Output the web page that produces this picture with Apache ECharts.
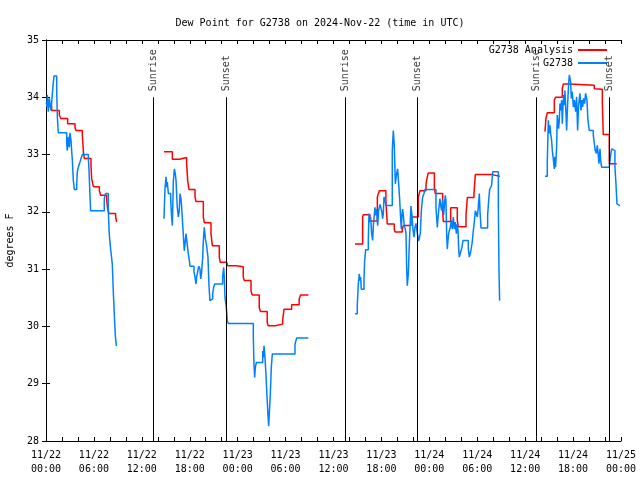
<!DOCTYPE html>
<html><head><meta charset="utf-8">
<script src="https://cdn.jsdelivr.net/npm/echarts@6/dist/echarts.min.js"></script>
<style>html,body{margin:0;padding:0;background:#fff}#c{width:640px;height:480px}</style>
</head><body><div id="c"></div>
<script>
// hours since 2024-11-22 00:00 UTC, dew point in degrees F
const xTickLabels = ['11/22\n00:00','11/22\n06:00','11/22\n12:00','11/22\n18:00','11/23\n00:00','11/23\n06:00','11/23\n12:00','11/23\n18:00','11/24\n00:00','11/24\n06:00','11/24\n12:00','11/24\n18:00','11/25\n00:00'];
const sunHours = [13.43, 22.54, 37.53, 46.49, 61.40, 70.54];
const sunLabels = ['Sunrise','Sunset','Sunrise','Sunset','Sunrise','Sunset'];

const anaDay1 = [[0.0,33.9],[0.25,33.85],[0.71,33.77],[1.67,33.69],[1.85,33.63],[2.71,33.54],[3.63,33.48],[3.75,33.42],[4.55,33.34],[4.7,33.02],[4.8,32.93],[5.63,32.81],[5.72,32.58],[5.93,32.44],[6.68,32.37],[6.84,32.29],[7.6,32.2],[7.72,32.05],[7.89,31.97],[8.72,31.91],[8.85,31.82]];
const anaDay2 = [[14.77,33.05],[15.82,32.92],[16.7,32.95],[17.61,32.84],[17.74,32.55],[17.9,32.39],[18.66,32.26],[18.78,32.18],[19.7,31.91],[19.82,31.81],[20.66,31.62],[20.83,31.41],[21.7,31.21],[21.82,31.12],[22.62,31.09],[22.75,31.06],[23.8,31.04],[24.7,30.86],[24.83,30.8],[25.67,30.62],[25.83,30.55],[26.7,30.33],[26.86,30.26],[27.7,30.07],[27.82,30.01],[28.68,30.04],[29.63,30.1],[29.8,30.3],[30.76,30.38],[31.7,30.48],[31.87,30.55],[32.85,30.55]];
const anaDay3 = [[38.69,31.44],[39.65,31.91],[39.73,31.95],[40.57,31.84],[41.49,32.26],[41.74,32.37],[42.56,32.2],[42.73,31.79],[43.61,31.7],[43.69,31.65],[44.61,31.7],[44.74,31.76],[45.7,31.91],[46.62,32.26],[46.83,32.37],[47.58,32.49],[47.75,32.61],[47.87,32.68],[48.63,32.4],[48.75,32.32],[49.67,32.02],[49.75,31.83],[50.67,32.07],[51.5,31.85],[51.63,31.74],[52.59,31.94],[52.76,32.25],[53.59,32.32],[53.76,32.65],[55.8,32.62],[56.84,32.62]];
const anaDay4 = [[62.48,33.4],[62.6,33.63],[62.77,33.73],[63.65,33.95],[63.81,34.0],[64.65,34.15],[64.77,34.23],[65.6,34.21],[68.65,34.15],[68.85,34.14],[69.66,33.92],[69.78,33.35],[70.53,32.84],[71.46,32.83]];

const obsDay1 = [[0.08,33.83],[0.17,34.04],[0.29,33.75],[0.42,33.98],[0.5,33.89],[0.63,33.77],[0.83,34.12],[0.92,34.27],[1.0,34.37],[1.34,34.12],[1.42,33.66],[1.54,33.38],[2.59,33.19],[2.67,33.07],[2.8,33.31],[2.92,33.13],[3.0,33.38],[3.13,33.25],[3.21,33.07],[3.3,32.9],[3.42,32.55],[3.55,32.39],[3.84,32.46],[3.92,32.7],[4.05,32.78],[4.26,32.87],[4.38,32.93],[4.55,33.0],[5.3,32.93],[5.38,32.75],[5.51,32.27],[5.59,32.02],[7.3,32.23],[7.47,32.32],[7.8,32.02],[7.93,31.59],[8.1,31.34],[8.3,31.09],[8.43,30.6],[8.56,30.19],[8.68,29.84],[8.81,29.66]];
const obsDay2 = [[14.77,31.88],[14.9,32.4],[15.03,32.61],[15.11,32.43],[15.19,32.52],[15.32,32.32],[15.61,32.2],[15.73,31.91],[15.82,31.76],[15.94,32.52],[16.07,32.75],[16.19,32.67],[16.28,32.55],[16.44,32.08],[16.57,31.91],[16.69,32.02],[16.78,32.32],[16.9,32.23],[16.99,32.08],[17.11,31.79],[17.24,31.5],[17.32,31.32],[17.45,31.5],[17.53,31.62],[17.7,31.41],[17.82,31.27],[17.95,31.15],[18.03,31.05],[18.53,30.95],[18.66,30.86],[18.78,30.74],[18.86,30.86],[18.99,30.95],[19.12,31.05],[19.28,31.0],[19.37,30.83],[19.49,30.95],[19.62,31.21],[19.7,31.5],[19.82,31.73],[19.95,31.53],[20.08,31.44],[20.28,31.21],[20.41,30.71],[20.53,30.45],[20.74,30.48],[20.87,30.57],[20.99,30.68],[21.12,30.74],[22.12,30.86],[22.25,31.03],[22.33,30.86],[22.41,30.51],[22.54,30.54],[22.62,30.27],[22.7,30.1],[22.83,30.05],[23.79,30.08],[23.87,30.05],[25.96,29.81],[26.04,29.34],[26.13,29.11],[26.21,29.28],[26.34,29.37],[27.13,29.57],[27.21,29.46],[27.3,29.66],[27.42,29.46],[27.55,29.14],[27.67,28.79],[27.8,28.44],[27.88,28.26],[27.96,28.47],[28.09,28.82],[28.21,29.28],[28.34,29.52],[31.18,29.69],[31.39,29.8],[32.85,29.8]];
const obsDay3 = [[38.69,30.22],[38.98,30.39],[39.11,30.74],[39.23,30.92],[39.32,30.8],[39.4,30.86],[39.48,30.65],[39.82,30.83],[39.9,31.15],[40.03,31.34],[40.36,31.5],[40.44,31.97],[40.57,31.82],[40.65,31.91],[40.78,31.62],[40.9,31.5],[40.99,31.76],[41.07,31.88],[41.19,32.08],[41.32,31.94],[41.4,32.05],[41.53,31.76],[41.65,32.02],[41.82,32.13],[42.03,32.02],[42.15,31.88],[42.24,31.97],[42.32,32.26],[42.45,32.2],[42.57,32.11],[43.36,33.07],[43.49,33.42],[43.61,33.16],[43.74,32.49],[43.91,32.67],[44.03,32.75],[44.16,32.49],[44.28,32.23],[44.41,31.88],[44.49,31.7],[44.57,31.94],[44.66,32.05],[44.74,31.94],[44.86,31.76],[44.99,31.7],[45.08,31.62],[45.16,31.03],[45.24,30.71],[45.37,30.92],[45.45,31.27],[45.58,31.73],[45.7,32.1],[45.83,31.94],[45.95,31.7],[46.08,31.56],[46.2,31.73],[46.33,31.8],[46.45,31.67],[46.58,31.56],[46.66,31.49],[46.87,31.62],[47.0,32.02],[47.16,32.26],[47.33,32.32],[47.45,32.39],[48.83,32.08],[48.91,31.91],[49.0,31.73],[49.08,31.88],[49.21,32.08],[49.33,32.23],[49.46,32.08],[49.54,32.02],[49.67,32.2],[49.79,31.94],[49.87,32.08],[50.0,32.29],[50.08,32.2],[50.17,31.62],[50.25,31.35],[50.33,31.5],[50.42,31.62],[50.5,31.67],[50.63,31.73],[50.75,31.85],[50.88,31.7],[51.0,31.91],[51.13,31.7],[51.25,31.82],[51.38,31.62],[51.5,31.79],[51.59,31.67],[51.67,31.38],[51.75,31.21],[51.92,31.3],[52.09,31.38],[52.21,31.5],[52.88,31.35],[53.01,31.21],[53.17,31.3],[53.34,31.44],[53.51,31.67],[53.63,31.82],[53.76,32.02],[53.88,31.97],[54.01,31.91],[54.13,32.08],[54.26,32.32],[54.34,32.02],[54.47,31.72],[55.3,31.94],[55.43,32.2],[55.55,32.39],[55.68,32.42],[55.8,32.46],[55.93,32.7],[56.64,32.11],[56.72,31.0],[56.8,30.45]];
const obsDay4 = [[62.48,32.62],[62.77,32.87],[62.9,33.6],[63.02,33.37],[63.11,33.51],[63.19,33.37],[63.31,33.25],[63.4,33.07],[63.52,32.93],[63.65,32.75],[63.73,32.96],[63.81,32.78],[63.94,33.13],[64.02,33.69],[64.1,33.57],[64.19,33.45],[64.27,33.6],[64.36,33.89],[64.44,33.77],[64.57,33.95],[64.65,33.54],[64.73,33.83],[64.82,34.04],[64.9,33.86],[64.98,34.12],[65.11,33.72],[65.19,33.42],[65.32,33.89],[65.44,34.24],[65.53,34.39],[65.69,34.27],[65.78,33.98],[65.9,34.1],[66.03,33.83],[66.15,33.95],[66.32,33.75],[66.44,34.01],[66.57,33.42],[66.69,33.86],[66.86,34.07],[66.99,33.77],[67.11,33.95],[67.2,33.83],[67.32,33.98],[67.45,33.89],[67.57,34.07],[67.74,33.95],[67.86,33.6],[68.03,33.42],[68.53,33.34],[68.66,33.19],[68.78,33.07],[68.91,33.02],[69.03,33.16],[69.16,32.99],[69.24,32.84],[69.37,33.1],[69.45,32.9],[69.57,32.78],[70.53,32.78],[70.7,32.99],[70.83,33.1],[71.04,33.07],[71.24,32.78],[71.37,32.49],[71.49,32.14],[71.58,32.11],[71.87,32.11]];

function joinDays(days) {
  const out = [];
  days.forEach((d, i) => {
    d.forEach(p => out.push(p));
    if (i < days.length - 1) out.push([d[d.length - 1][0] + 0.001, null]);
  });
  return out;
}
const FONT = 'DejaVu Sans Mono';
const chart = echarts.init(document.getElementById('c'), null, {renderer: 'canvas'});
const axisCommon = {
  axisLine: {show: true, lineStyle: {color: '#000', width: 1}},
  axisTick: {show: true, inside: true, length: 4, lineStyle: {color: '#000'}},
  splitLine: {show: false}
};
chart.setOption({
  animation: false,
  backgroundColor: '#fff',
  title: {text: 'Dew Point for G2738 on 2024-Nov-22 (time in UTC)', left: 'center', top: 13,
    textStyle: {fontFamily: FONT, fontSize: 10, fontWeight: 'normal', color: '#000'}},
  legend: [
    {data: ['G2738 Analysis'], right: 28, top: 40, align: 'right', itemWidth: 29, itemHeight: 2, itemGap: 4, icon: 'rect',
      textStyle: {fontFamily: FONT, fontSize: 10, color: '#000', padding: [0, 0, 0, 0]}},
    {data: ['G2738'], right: 28, top: 53, align: 'right', itemWidth: 29, itemHeight: 2, itemGap: 4, icon: 'rect',
      textStyle: {fontFamily: FONT, fontSize: 10, color: '#000', padding: [0, 0, 0, 0]}}
  ],
  grid: {left: 46, right: 19, top: 40, bottom: 39, containLabel: false, outerBoundsMode: 'none'},
  xAxis: [
    Object.assign({type: 'value', min: 0, max: 72, interval: 2, position: 'bottom',
      axisLabel: {fontFamily: FONT, fontSize: 10, color: '#000', margin: 7, lineHeight: 14,
        showMinLabel: true, showMaxLabel: true,
        formatter: v => (v % 6 === 0 ? xTickLabels[v / 6] : '')}}, axisCommon),
    Object.assign({type: 'value', min: 0, max: 72, interval: 2, position: 'top', axisLabel: {show: false}}, axisCommon)
  ],
  yAxis: [
    Object.assign({type: 'value', min: 28, max: 35, interval: 1, position: 'left',
      name: 'degrees F', nameLocation: 'middle', nameGap: 31, nameRotate: 90,
      nameTextStyle: {fontFamily: FONT, fontSize: 10, color: '#000'},
      axisLabel: {fontFamily: FONT, fontSize: 10, color: '#000', margin: 7}}, axisCommon),
    Object.assign({type: 'value', min: 28, max: 35, interval: 1, position: 'right', axisLabel: {show: false}}, axisCommon)
  ],
  series: [
    {name: 'G2738 Analysis', type: 'line', step: 'end', showSymbol: false, symbol: 'none', connectNulls: false,
      data: joinDays([anaDay1, anaDay2, anaDay3, anaDay4]),
      lineStyle: {color: '#ff0000', width: 1.5}, itemStyle: {color: '#ff0000'}, z: 3},
    {name: 'G2738', type: 'line', step: 'end', showSymbol: false, symbol: 'none', connectNulls: false,
      data: joinDays([obsDay1, obsDay2, obsDay3, obsDay4]),
      lineStyle: {color: '#0080ff', width: 1.5}, itemStyle: {color: '#0080ff'}, z: 4},
    {name: 'sun', type: 'scatter', symbolSize: 0, silent: true, z: 5,
      data: sunHours.map((t, i) => ({value: [t, 34.0], label: {formatter: sunLabels[i]}})),
      label: {show: true, position: 'top', distance: 6, rotate: 90, align: 'left', verticalAlign: 'middle',
        fontFamily: FONT, fontSize: 10, color: '#000'},
      markLine: {silent: true, symbol: ['none', 'none'], label: {show: false},
        lineStyle: {color: '#000', width: 1, type: 'solid'},
        data: sunHours.map(t => [{coord: [t, 28]}, {coord: [t, 34.0]}])}}
  ]
});
</script></body></html>
